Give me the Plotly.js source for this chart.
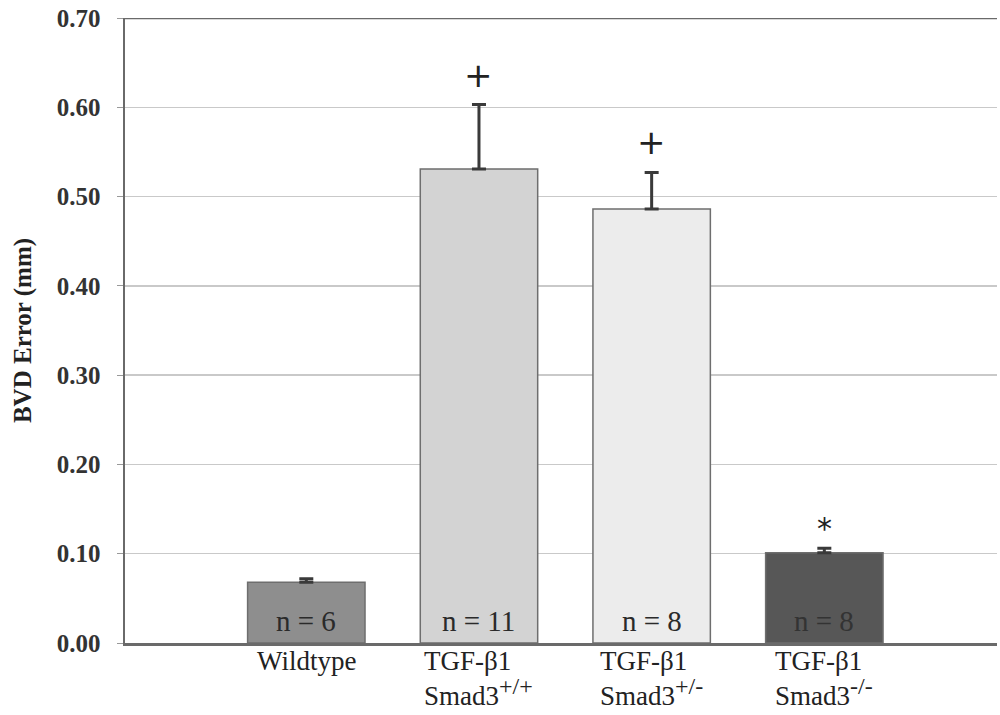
<!DOCTYPE html>
<html><head><meta charset="utf-8">
<script src="https://cdn.plot.ly/plotly-3.0.1.min.js"></script>
<style>body{margin:0;background:#fff}#c{width:1000px;height:715px}</style>
</head><body><div id="c"></div>
<script>
var categories = ["Wildtype", "TGF-β1<br>Smad3<sup><span style=\"font-size:24px\">+/+</span></sup>", "TGF-β1<br>Smad3<sup><span style=\"font-size:24px\">+/-</span></sup>", "TGF-β1<br>Smad3<sup><span style=\"font-size:24px\">-/-</span></sup>"];
var means = [0.068, 0.531, 0.486, 0.101];
var sem = [0.004, 0.072, 0.041, 0.005];
var nLabels = ["n = 6", "n = 11", "n = 8", "n = 8"];
var sigMarks = ["", "+", "+", "*"];
var barColors = ["#8e8e8e", "#d3d3d3", "#ececec", "#575757"];
var nColors = ["#2a2a2a", "#2a2a2a", "#2a2a2a", "#333333"];
var yTicks = [0, 0.1, 0.2, 0.3, 0.4, 0.5, 0.6, 0.7];

var xs = categories.map(function(_, i){ return i; });
var serif = "Liberation Serif, Times New Roman, serif";

var trace = {
  type: "bar", x: xs, y: means, width: 0.68,
  marker: {color: barColors, line: {color: "#6e6e6e", width: 1.5}},
  error_y: {type: "data", symmetric: false, array: sem, arrayminus: sem.map(function(){return 0;}),
            color: "#3a3a3a", thickness: 3, width: 7},
  hoverinfo: "none"
};

var ann = [];
categories.forEach(function(c, i){
  ann.push({x: i, y: 0, yref: "y", xref: "x", text: nLabels[i], showarrow: false,
    yanchor: "bottom", yshift: 4, font: {family: serif, size: 29, color: nColors[i]}});
  ann.push({x: i, y: 0, yref: "y", xref: "x", text: c, showarrow: false, align: "left",
    yanchor: "top", yshift: -1, font: {family: serif, size: 27, color: "#222"}});
  if (sigMarks[i]) {
    ann.push({x: i, y: means[i] + sem[i], xref: "x", yref: "y", text: sigMarks[i], showarrow: false,
      yanchor: "bottom", yshift: sigMarks[i] === "*" ? 0 : 8,
      font: {family: "DejaVu Sans, sans-serif", size: sigMarks[i] === "*" ? 30 : 34, color: "#222"}});
  }
});

var layout = {
  width: 1000, height: 715,
  margin: {l: 125, r: 3, t: 18, b: 72},
  paper_bgcolor: "#fff", plot_bgcolor: "#fff",
  showlegend: false, bargap: 0.3,
  xaxis: {range: [-1.05, 4.0], showticklabels: false, showgrid: false, zeroline: false,
          showline: true, linecolor: "#6a6a6a", linewidth: 2.5, ticks: ""},
  yaxis: {range: [0, 0.7], tickvals: yTicks, tickformat: ".2f", showgrid: true, gridcolor: "#c9c9c9", gridwidth: 1.5,
          zeroline: false, showline: true, linecolor: "#6a6a6a", linewidth: 2.5, ticks: "outside", ticklen: 6,
          tickcolor: "#999", tickwidth: 1, ticklabelstandoff: 11,
          tickfont: {family: serif, size: 25, color: "#333", weight: "bold"},
          title: {text: "<b>BVD Error (mm)</b>", font: {family: serif, size: 25, color: "#222"}, standoff: 18}},
  shapes: [{type: "line", xref: "paper", yref: "y", x0: 0, x1: 1, y0: 0.7, y1: 0.7, line: {color: "#6a6a6a", width: 2.5}}],
  annotations: ann
};
Plotly.newPlot("c", [trace], layout, {displayModeBar: false, staticPlot: true});
</script></body></html>
